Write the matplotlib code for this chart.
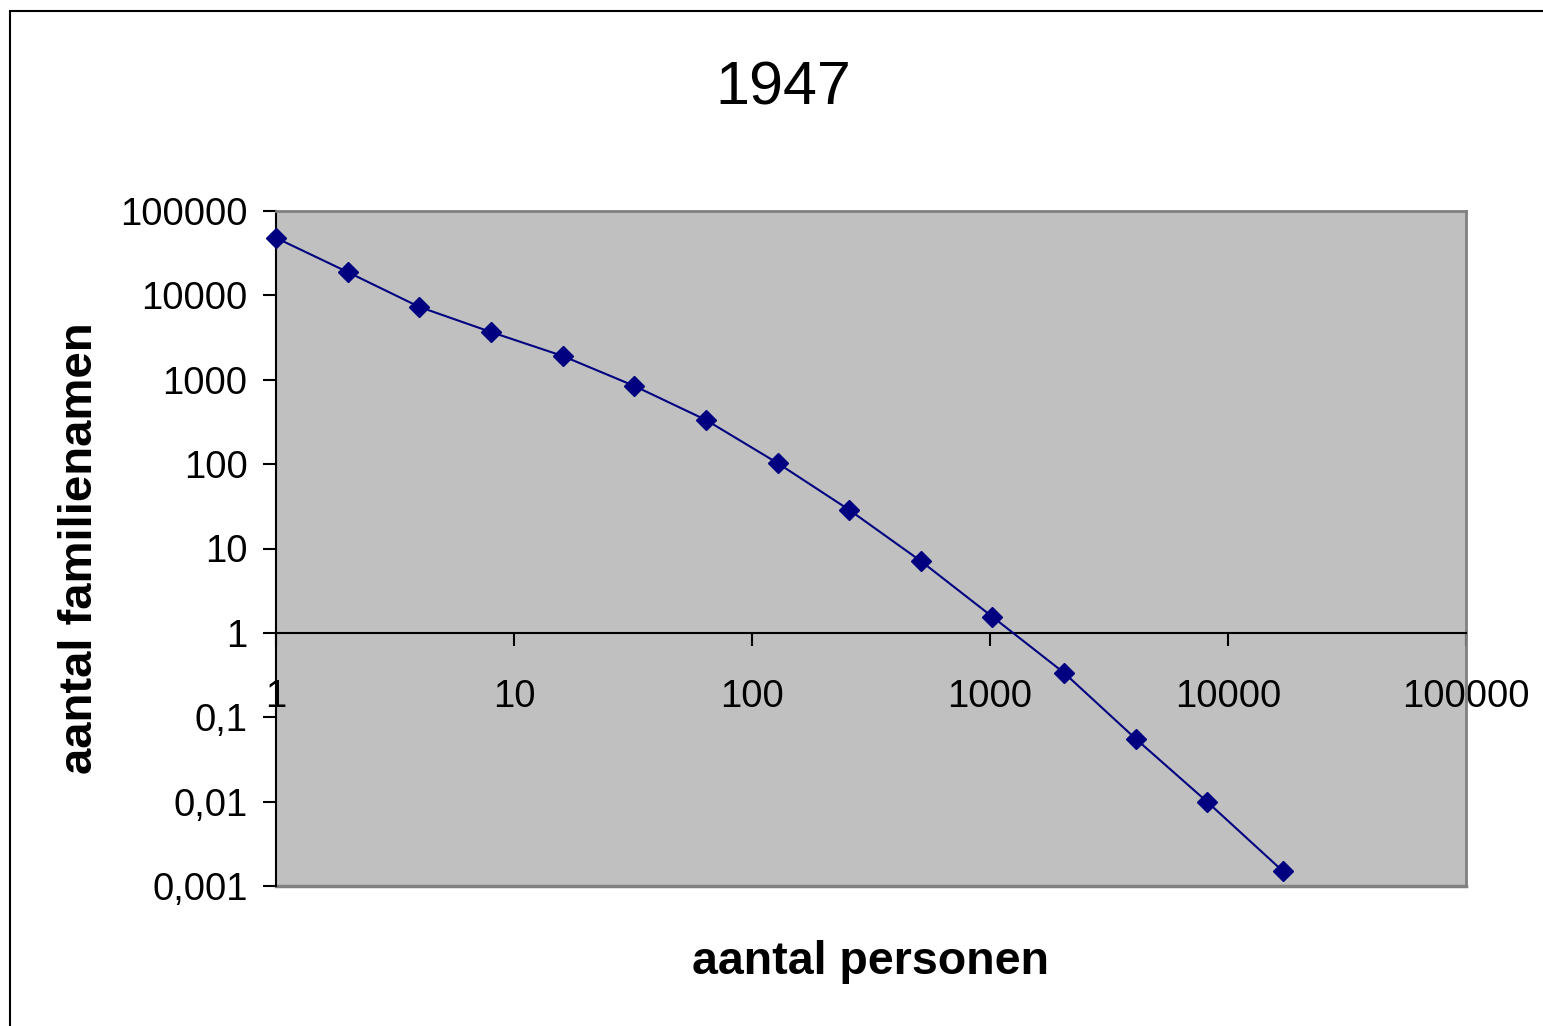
import matplotlib
matplotlib.use("Agg")
import matplotlib.pyplot as plt
from matplotlib.patches import Rectangle
from matplotlib.ticker import NullLocator

# data
personen = [1, 2, 4, 8, 16, 32, 64, 128, 256, 512, 1024, 2048, 4096, 8192, 17000]
familienamen = [48000, 18900, 7300, 3680, 1915, 845, 334, 103, 28.7, 7.1,
                1.55, 0.336, 0.0555, 0.0099, 0.0015]

x_ticks = [1, 10, 100, 1000, 10000, 100000]
x_labels = ["1", "10", "100", "1000", "10000", "100000"]
y_ticks = [0.001, 0.01, 0.1, 1, 10, 100, 1000, 10000, 100000]
y_labels = ["0,001", "0,01", "0,1", "1", "10", "100", "1000", "10000", "100000"]

plt.rcParams["font.family"] = ["Liberation Sans", "DejaVu Sans"]

W, H = 1543, 1026
fig = plt.figure(figsize=(W / 100, H / 100), dpi=100)

# outer chart frame (top and left edges visible)
fig.add_artist(Rectangle((10 / W, -0.1), 1.2, (H - 10.5) / H + 0.1,
                         transform=fig.transFigure, fill=False,
                         edgecolor="black", linewidth=1.5))

ax = fig.add_axes([276 / W, (H - 886) / H, (1466 - 276) / W, (886 - 211) / H])
ax.set_facecolor("#c0c0c0")
ax.set_xscale("log")
ax.set_yscale("log")
ax.set_xlim(1, 100000)
ax.set_ylim(0.001, 100000)

ax.plot(personen, familienamen, color="#000080", linewidth=1.5,
        marker="D", markersize=10.5, clip_on=False, zorder=3)

# axes lines: x axis crosses at y = 1
ax.spines["bottom"].set_position(("data", 1))
ax.spines["bottom"].set_color("black")
ax.spines["bottom"].set_linewidth(1.5)
ax.spines["left"].set_color("black")
ax.spines["left"].set_linewidth(1.5)
for side in ["top", "right"]:
    ax.spines[side].set_color("#808080")
    ax.spines[side].set_linewidth(2)
ax.axhline(0.001, color="#808080", linewidth=2.5, clip_on=False, zorder=2)

ax.set_xticks(x_ticks)
ax.set_xticklabels(x_labels)
ax.set_yticks(y_ticks)
ax.set_yticklabels(y_labels)
ax.xaxis.set_minor_locator(NullLocator())
ax.yaxis.set_minor_locator(NullLocator())
ax.tick_params(axis="x", direction="out", length=9, width=1.5, pad=24, labelsize=27.5)
ax.tick_params(axis="y", direction="out", length=9.5, width=1.5, pad=11, labelsize=27.5)

fig.text(783 / W, 1 - 89 / H, "1947", fontsize=44, ha="center", va="center")
fig.text(870 / W, 1 - 962 / H, "aantal personen", fontsize=33.5,
         fontweight="bold", ha="center", va="center")
fig.text(80 / W, 1 - 548 / H, "aantal familienamen", fontsize=34,
         fontweight="bold", ha="center", va="center", rotation=90)

fig.savefig("out.png", dpi=100)
